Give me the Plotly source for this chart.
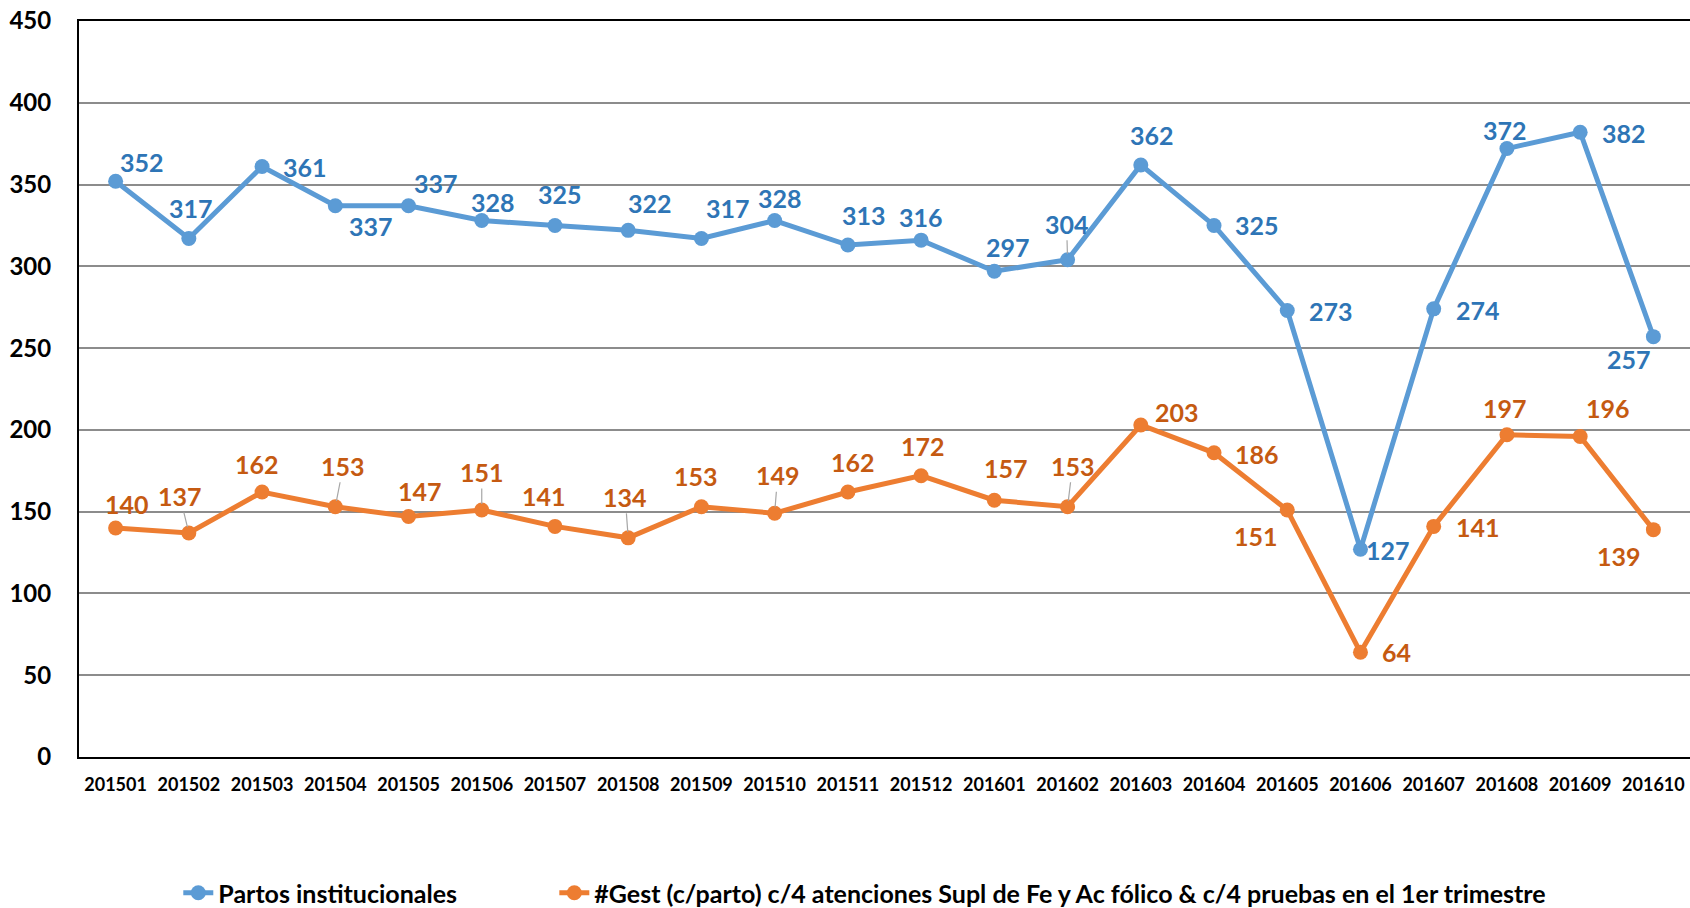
import plotly.graph_objects as go

# periods (yyyymm)
periodos = ["201501", "201502", "201503", "201504", "201505", "201506", "201507", "201508",
            "201509", "201510", "201511", "201512", "201601", "201602", "201603", "201604",
            "201605", "201606", "201607", "201608", "201609", "201610"]

partos = [352, 317, 361, 337, 337, 328, 325, 322, 317, 328, 313, 316,
          297, 304, 362, 325, 273, 127, 274, 372, 382, 257]

gestantes = [140, 137, 162, 153, 147, 151, 141, 134, 153, 149, 162, 172,
             157, 153, 203, 186, 151, 64, 141, 197, 196, 139]

nombre_partos = "Partos institucionales"
nombre_gest = "#Gest (c/parto) c/4 atenciones Supl de Fe y Ac fólico & c/4 pruebas en el 1er trimestre"

# label offsets (px) as Excel placed them: (dx, dy, leader line)
off_partos = [(26, -19, 0), (2, -31, 0), (43, 0, 0), (36, 20, 0), (27, -23, 0), (11, -19, 0),
              (5, -31, 0), (22, -27, 0), (27, -31, 0), (5, -23, 0), (16, -30, 0), (0, -23, 0),
              (14, -24, 0), (-1, -36, 1), (11, -30, 0), (43, 0, 0), (44, 1, 0), (28, 1, 0),
              (44, 1, 0), (-2, -19, 0), (44, 1, 0), (-24, 22, 0)]
off_gest = [(11, -24, 0), (-9, -37, 1), (-5, -28, 0), (8, -41, 1), (11, -26, 0), (0, -38, 1),
            (-11, -30, 0), (-3, -41, 1), (-5, -31, 0), (3, -38, 1), (5, -30, 0), (2, -30, 0),
            (12, -32, 0), (5, -41, 1), (36, -13, 0), (43, 1, 0), (-31, 26, 0), (36, 0, 0),
            (44, 1, 0), (-2, -27, 0), (28, -28, 0), (-34, 26, 0)]

FONT = "Lato"
AZUL = "#5B9BD5"
NARANJA = "#ED7D31"

fig = go.Figure()
fig.add_trace(go.Scatter(x=periodos, y=partos, mode="lines+markers", name=nombre_partos,
                         line=dict(color=AZUL, width=5), marker=dict(color=AZUL, size=15),
                         legend="legend"))
fig.add_trace(go.Scatter(x=periodos, y=gestantes, mode="lines+markers", name=nombre_gest,
                         line=dict(color=NARANJA, width=5), marker=dict(color=NARANJA, size=15),
                         legend="legend2"))

anns = []
for serie, offs, col in [(partos, off_partos, "#2E75B6"), (gestantes, off_gest, "#C55A11")]:
    for i, (v, (dx, dy, lead)) in enumerate(zip(serie, offs)):
        # category index, so the numeric-looking labels are not read as values
        a = dict(x=i, y=v, text=str(v), font=dict(family=FONT, size=25, color=col, weight="bold"))
        if lead:
            a.update(showarrow=True, ax=dx, ay=dy, arrowhead=0, arrowwidth=1.2,
                     arrowcolor="#a6a6a6", standoff=6)
        else:
            a.update(showarrow=False, xshift=dx, yshift=-dy)
        anns.append(a)

leg_font = dict(family=FONT, size=25, color="black", weight="bold")

fig.update_layout(
    width=1690, height=908,
    margin=dict(l=79, r=0, t=21, b=151),
    plot_bgcolor="white", paper_bgcolor="white",
    annotations=anns,
    showlegend=True,
    legend=dict(orientation="h", xref="container", yref="container", x=0.1055, y=0.0165,
                xanchor="left", yanchor="middle", font=leg_font),
    legend2=dict(orientation="h", xref="container", yref="container", x=0.328, y=0.0165,
                 xanchor="left", yanchor="middle", font=leg_font),
    xaxis=dict(type="category", categoryorder="array", categoryarray=periodos,
               range=[-0.5, len(periodos) - 0.5], autorange=False,
               showline=True, linecolor="black", linewidth=2, mirror=True,
               showgrid=False, ticks="", tickfont=dict(family=FONT, size=18, color="black", weight="bold"),
               ticklabelstandoff=10),
    yaxis=dict(range=[0, 450], dtick=50, showline=True, linecolor="black", linewidth=2,
               showgrid=True, gridcolor="#8c8c8c", gridwidth=1.5, zeroline=False, ticks="",
               tickfont=dict(family=FONT, size=24, color="black", weight="bold"),
               ticklabelstandoff=21),
)

fig.write_html("out.html", config={"displayModeBar": False},
               post_script="document.body.style.margin='0';")
